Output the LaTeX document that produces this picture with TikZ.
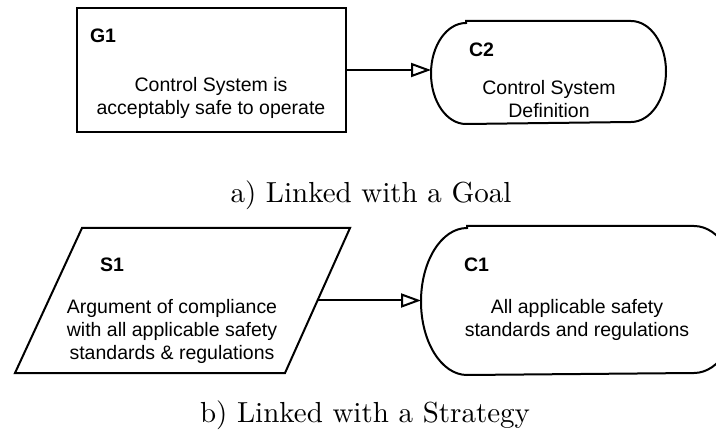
\documentclass[tikz,border=0pt]{standalone}
\usepackage{fontspec}
\setsansfont{Liberation Sans}
\newfontfamily\capfont{lmroman10-regular.otf}
\usetikzlibrary{arrows.meta}
\tikzset{>={Triangle[open,length=20pt,width=14pt]}}

\begin{document}
\begin{tikzpicture}[x=1pt, y=1pt, line width=2pt,
    txt/.style={font=\fontsize{19.5}{23}\selectfont\sffamily, align=center, inner sep=0pt},
    tag/.style={font=\fontsize{19.5}{23}\selectfont\sffamily\bfseries, anchor=west, inner sep=0pt},
    subcap/.style={font=\fontsize{29}{34}\selectfont\capfont, anchor=base, inner sep=0pt}]
    \useasboundingbox (0,0) rectangle (716,-433);
    \clip (0,0) rectangle (716,-433);
    % a) goal with context
    \node[draw, minimum width=269pt, minimum height=124pt, inner sep=0pt] (g1) at (211.5,-70) {};
    \node[tag] (g1id) at (89,-36) {G1};
    \node[txt] (g1txt) at (211,-98) {Control System is\\acceptably safe to operate};
    \node[minimum width=233pt, minimum height=101pt, inner sep=0pt] (c2) at (548.5,-72.5) {};
    \draw ([xshift=35pt]c2.north west) -- ([xshift=-35pt]c2.north east)
        arc[start angle=90, end angle=-90, x radius=35, y radius=50.5]
        -- ([xshift=35pt]c2.south west)
        arc[start angle=270, end angle=90, x radius=35, y radius=50.5] -- cycle;
    \node[tag] (c2id) at (468,-50) {C2};
    \node[txt] (c2txt) at (549,-99) {Control System\\Definition};
    \draw[->] (g1.east) -- (g1.east -| c2.west);
    \node[subcap] (capa) at (371,-203) {a) Linked with a Goal};
    % b) strategy with context
    \coordinate (s1a) at (82,-228);
    \coordinate (s1b) at (350,-228);
    \coordinate (s1c) at (285,-373);
    \coordinate (s1d) at (15,-373);
    \coordinate (s1e) at (317.5,-300.5);
    \draw (s1a) -- (s1b) -- (s1c) -- (s1d) -- cycle;
    \node[tag] (s1id) at (99,-265) {S1};
    \node[txt] (s1txt) at (172,-331) {Argument of compliance\\with all applicable safety\\standards \& regulations};
    \node[minimum width=317pt, minimum height=147pt, inner sep=0pt] (c1) at (580.5,-300.5) {};
    \draw ([xshift=46pt]c1.north west) -- ([xshift=-46pt]c1.north east)
        arc[start angle=90, end angle=-90, x radius=46, y radius=73.5]
        -- ([xshift=46pt]c1.south west)
        arc[start angle=270, end angle=90, x radius=46, y radius=73.5] -- cycle;
    \node[tag] (c1id) at (463,-265) {C1};
    \node[txt] (c1txt) at (577,-320) {All applicable safety\\standards and regulations};
    \draw[->] (s1e) -- (c1.west);
    \node[subcap] (capb) at (365,-422) {b) Linked with a Strategy};
\end{tikzpicture}
\end{document}
